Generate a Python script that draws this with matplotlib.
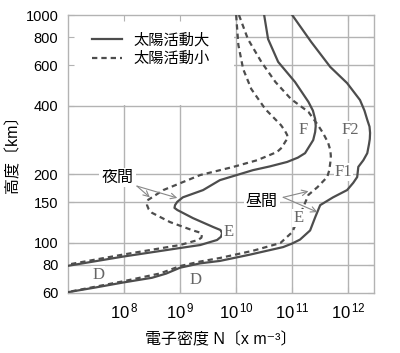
import numpy as np
import matplotlib.pyplot as plt
from matplotlib.patches import Rectangle
from matplotlib.ticker import NullLocator

plt.rcParams['font.family'] = ['Liberation Sans', 'Noto Sans CJK JP', 'DejaVu Sans']
plt.rcParams['mathtext.fontset'] = 'custom'
plt.rcParams['mathtext.rm'] = 'Liberation Sans'
plt.rcParams['mathtext.it'] = 'Liberation Sans'

# electron density profiles: log10(N [m^-3]) vs altitude [km]
# daytime, high solar activity (solid)
day_max_logn = [11.0, 11.34, 11.68, 11.98, 12.21, 12.29, 12.34, 12.38, 12.39, 12.385, 12.37,
                12.34, 12.27, 12.18, 12.16, 12.09, 11.98, 11.73, 11.50, 11.41, 11.32, 11.14,
                11.0, 10.84, 10.25, 9.71, 9.36, 9.0, 8.75, 8.5, 7.98, 7.5, 7.0]
day_max_alt = [1000, 761, 591, 502, 423, 380, 346, 323, 303, 285, 270,
               247, 230, 215, 194, 183, 170, 158, 146, 129, 113, 103,
               99, 95.5, 88.5, 83, 81, 77.5, 73, 70, 66.7, 63.5, 60.5]
# daytime, low solar activity (dashed)
day_min_logn = [10.05, 10.21, 10.45, 10.70, 10.98, 11.29, 11.46, 11.55, 11.64, 11.68, 11.69,
                11.68, 11.66, 11.625, 11.45, 11.29, 11.14, 11.0, 10.79, 10.30, 9.71, 9.36,
                9.0, 8.64, 7.98, 7.0]
day_min_alt = [1000, 784, 622, 508, 427, 375, 328, 303, 275, 255, 240,
               224, 207, 194, 175, 162, 132, 111, 99.5, 92, 85.5, 82.5,
               78.8, 73.1, 67.5, 60.6]
# nighttime, high solar activity (solid)
night_max_logn = [10.5, 10.57, 10.75, 11.05, 11.29, 11.37, 11.41, 11.42, 11.41, 11.375, 11.23,
                  11.10, 10.91, 10.6, 10.30, 9.71, 9.41, 9.05, 8.95, 8.91, 8.90, 8.95, 9.23,
                  9.59, 9.72, 9.75, 9.73, 9.66, 9.36, 9.0, 7.98, 7.0]
night_max_alt = [1000, 784, 622, 508, 415, 380, 349, 325, 306, 282, 247,
                 236, 226, 216, 208, 188, 170, 158, 151, 146, 142, 139, 128,
                 117, 113.5, 110, 106, 102.6, 97.5, 94.6, 86.7, 79]
# nighttime, low solar activity (dashed)
night_min_logn = [10.0, 10.04, 10.125, 10.27, 10.52, 10.80, 10.87, 10.91, 10.92, 10.875, 10.82,
                  10.73, 10.375, 9.95, 9.36, 8.70, 8.43, 8.41, 8.41, 8.44, 8.5, 8.82, 9.23,
                  9.36, 9.39, 9.38, 9.32, 9.0, 7.98, 7.0]
night_min_alt = [1000, 738, 579, 473, 386, 328, 310, 297, 287, 277, 262,
                 250, 230, 215, 198, 170, 154, 150, 146, 140, 135, 123, 113,
                 110.5, 108, 105, 102.6, 97.5, 88.5, 80]

x_ticks = [8, 9, 10, 11, 12]
y_ticks = [60, 80, 100, 150, 200, 400, 600, 800, 1000]
legend_labels = ['太陽活動大', '太陽活動小']

line_c = '#4d4d4d'
grid_c = '#b3b3b3'

fig = plt.figure(figsize=(4.0, 3.53), dpi=100)
ax = fig.add_axes([0.17, 0.17, 0.765, 0.7875])
ax.set_xscale('log')
ax.set_yscale('log')
ax.set_xlim(1e7, 10 ** 12.46)
ax.set_ylim(60, 1000)

# grid lines drawn by hand so the legend area can blank them out
for e in x_ticks:
    ax.axvline(10.0 ** e, color=grid_c, lw=1.0, zorder=0.5)
for h in y_ticks[1:-1]:
    ax.axhline(h, color=grid_c, lw=1.0, zorder=0.5)
ax.add_patch(Rectangle((1e7, 402), 10 ** 9.97 - 1e7, 598, facecolor='white',
                       edgecolor='none', zorder=1))

# the four profiles
curve_kw = dict(color=line_c, lw=1.6, zorder=3, solid_joinstyle='round')
ax.plot(10.0 ** np.array(night_max_logn), night_max_alt, label=legend_labels[0], **curve_kw)
ax.plot(10.0 ** np.array(night_min_logn), night_min_alt, dashes=(2.4, 1.8),
        label=legend_labels[1], **curve_kw)
ax.plot(10.0 ** np.array(day_max_logn), day_max_alt, **curve_kw)
ax.plot(10.0 ** np.array(day_min_logn), day_min_alt, dashes=(2.4, 1.8), **curve_kw)

ax.legend(loc='upper left', bbox_to_anchor=(0.078, 0.935), frameon=False,
          borderaxespad=0, borderpad=0, handlelength=2.0, handletextpad=0.7,
          labelspacing=0.3, fontsize=11)

# layer labels
layer_kw = dict(family=['Liberation Serif', 'DejaVu Serif'], fontsize=12, color='#666666',
                ha='center', va='center', zorder=4,
                bbox=dict(boxstyle='square,pad=0.05', fc='white', ec='none'))
ax.text(10 ** 11.2, 312, 'F', **layer_kw)
ax.text(10 ** 12.04, 312, 'F2', **layer_kw)
ax.text(10 ** 11.91, 204, 'F1', **layer_kw)
ax.text(10 ** 9.86, 111, 'E', **layer_kw)
ax.text(10 ** 11.11, 128, 'E', **layer_kw)
ax.text(10 ** 7.54, 72, 'D', **layer_kw)
ax.text(10 ** 9.27, 68.4, 'D', **layer_kw)

# night / day callouts
note_kw = dict(fontsize=11.5, ha='center', va='center', zorder=4,
               bbox=dict(boxstyle='square,pad=0.15', fc='white', ec='none'))
arrow_kw = dict(arrowstyle='->', color='#888888', lw=0.8, shrinkA=0, shrinkB=0)
ax.text(10 ** 7.89, 193, '夜間', **note_kw)
ax.annotate('', xy=(10 ** 8.46, 158), xytext=(10 ** 8.23, 177), arrowprops=arrow_kw)
ax.annotate('', xy=(10 ** 8.95, 157), xytext=(10 ** 8.23, 177), arrowprops=arrow_kw)
ax.text(10 ** 10.46, 151, '昼間', **note_kw)
ax.annotate('', xy=(10 ** 11.29, 168), xytext=(10 ** 10.84, 158), arrowprops=arrow_kw)
ax.annotate('', xy=(10 ** 11.45, 136), xytext=(10 ** 10.84, 158), arrowprops=arrow_kw)

# axes, ticks
ax.xaxis.set_minor_locator(NullLocator())
ax.yaxis.set_minor_locator(NullLocator())
ax.set_xticks([10.0 ** e for e in x_ticks])
ax.set_xticklabels(['$10^{\\,%d}$' % e for e in x_ticks])
ax.set_yticks(y_ticks)
ax.set_yticklabels([str(v) for v in y_ticks])
ax.tick_params(which='both', direction='in', length=4, color=grid_c,
               top=True, right=True, labelsize=10.5)
ax.tick_params(axis='x', pad=6, labelsize=12)
ax.tick_params(axis='y', pad=7)
for s in ax.spines.values():
    s.set_color(grid_c)
    s.set_linewidth(1.0)

fig.text(13 / 400, 1 - 150 / 353, '高度〔km〕', rotation=90, ha='center', va='center',
         fontsize=11.5)
fig.text(221 / 400, 1 - 340 / 353, '電子密度 N〔x m⁻³〕', ha='center', va='center',
         fontsize=11.5)

fig.savefig('out.png', dpi=100)
